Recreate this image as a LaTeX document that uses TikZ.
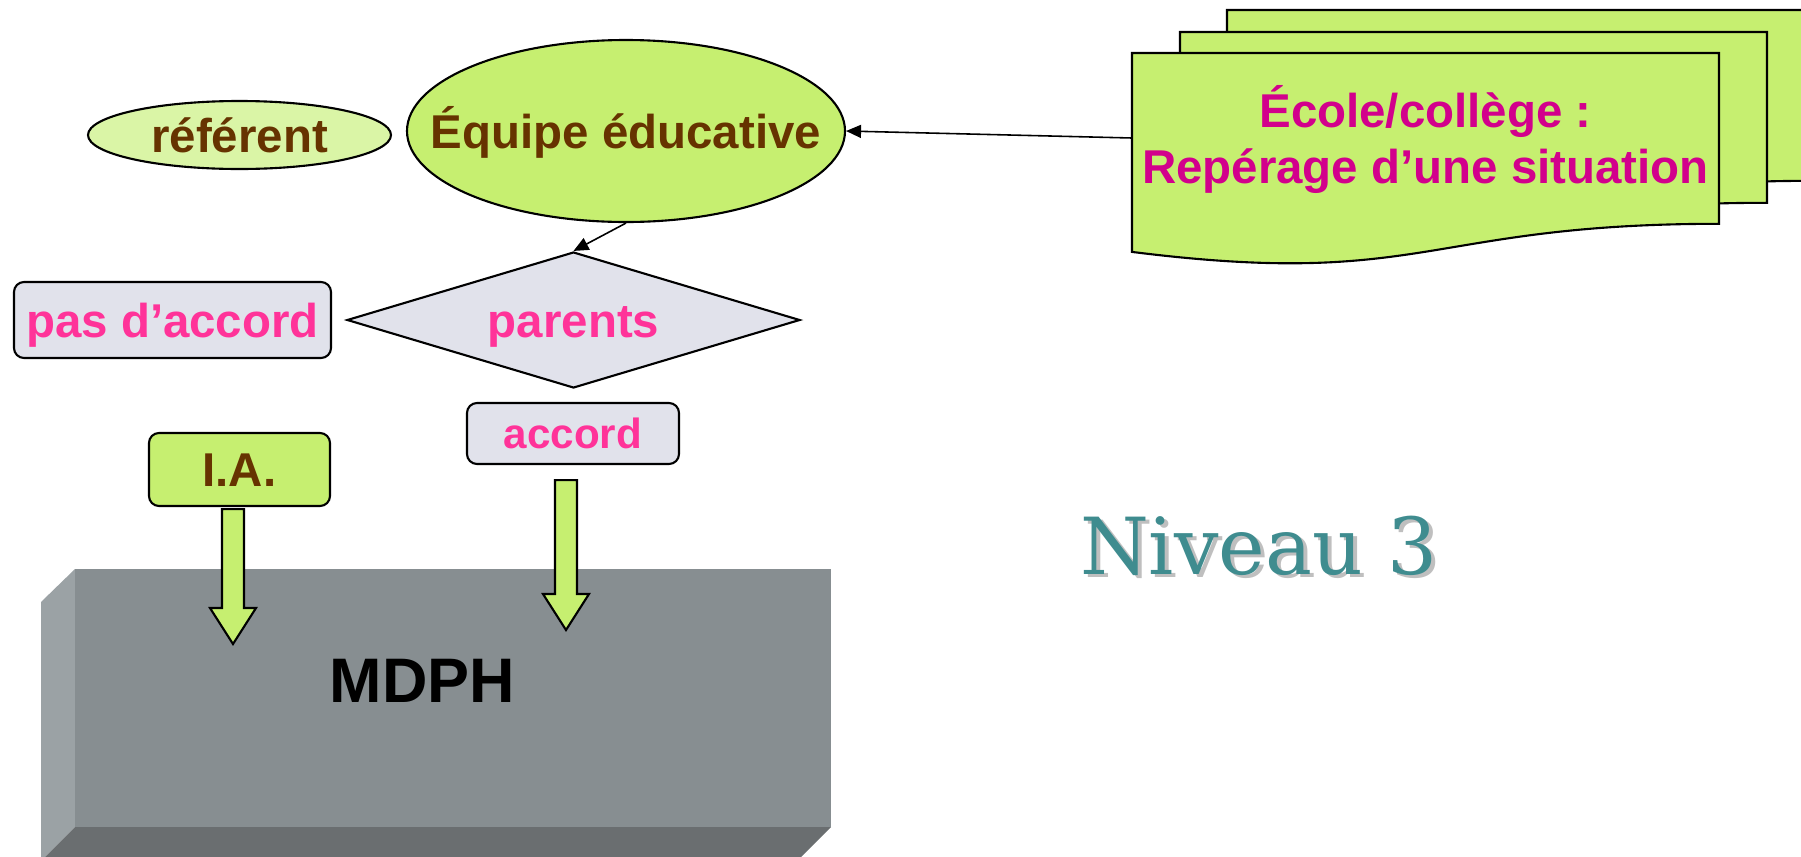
\documentclass[tikz,border=0pt]{standalone}
\usepackage{fontspec}
\setmainfont{Liberation Sans}
\newfontfamily\levelfont{DejaVu Serif}
\usetikzlibrary{shapes,arrows.meta,calc}

\definecolor{leaf}{RGB}{198,239,112}
\definecolor{paleleaf}{RGB}{218,245,166}
\definecolor{lilac}{RGB}{225,226,235}
\definecolor{bark}{RGB}{102,51,0}
\definecolor{rose}{RGB}{255,51,153}
\definecolor{fuchsia}{RGB}{210,0,140}
\definecolor{seablue}{RGB}{63,140,143}
\definecolor{slab}{RGB}{135,142,145}
\definecolor{slabside}{RGB}{155,162,165}
\definecolor{slabfoot}{RGB}{106,110,112}

\tikzstyle{outline} = [draw,line width=0.6pt]
\tikzstyle{label} = [font=\bfseries\fontsize{13.5}{16.2}\selectfont,text height=9.7pt,text depth=0pt,inner sep=0]
\tikzstyle{bubble} = [outline,label,ellipse,fill=leaf,text=bark]
\tikzstyle{tag} = [outline,label,rectangle,rounded corners=0.1cm,fill=lilac,text=rose]
\tikzstyle{link} = [-{Triangle[length=0.15cm,width=0.13cm]},line width=0.45pt]
\tikzstyle{fat} = [outline,fill=leaf,line join=miter]
\def \shaftw {0.11}
\def \headw {0.23}
\def \headl {0.36}
% block arrow from #1 straight down to #2
\def\fatarrow#1#2{\filldraw[fat] ($(#1)+(-\shaftw,0)$) -- ($(#2)+(-\shaftw,\headl)$) -- ($(#2)+(-\headw,\headl)$) -- (#2) -- ($(#2)+(\headw,\headl)$) -- ($(#2)+(\shaftw,\headl)$) -- ($(#1)+(\shaftw,0)$) -- cycle;}
\tikzset{docsheet/.pic={\path[outline,fill=leaf] (0,0) -- (5.87,0) -- (5.87,-1.708) .. controls (2.935,-1.708) and (2.935,-2.359) .. (0,-1.989) -- cycle;}}

\begin{document}
\begin{tikzpicture}
  \useasboundingbox (0,0) rectangle (18.01,8.56);
  \clip (0,0) rectangle (18.01,8.56);

  % stacked sheets, back to front
  \pic at (12.27,8.46) {docsheet};
  \pic at (11.80,8.24) {docsheet};
  \pic at (11.32,8.03) {docsheet};
  \node[font=\bfseries\fontsize{13.5}{16.2}\selectfont,text=fuchsia,align=center,inner sep=0] (situation) at (14.255,7.165) {École/collège :\\Repérage d’une situation};
  \coordinate (sheetW) at (11.32,7.18);

  % zero-width text so the ellipse keeps its own size
  \node[bubble,minimum width=4.38cm,minimum height=1.82cm] (equipe) at (6.26,7.25) {\makebox[0pt]{Équipe éducative}};
  \node[bubble,fill=paleleaf,minimum width=3.03cm,minimum height=0.68cm] (referent) at (2.395,7.21) {référent};
  \node[outline,label,diamond,aspect=3.33,fill=lilac,text=rose,minimum width=4.53cm,minimum height=1.36cm] (parents) at (5.735,5.36) {parents};
  \node[tag,minimum width=3.17cm,minimum height=0.76cm] (refus) at (1.725,5.36) {pas d’accord};
  \node[tag,font=\bfseries\fontsize{12}{14}\selectfont,text height=8.6pt,minimum width=2.12cm,minimum height=0.61cm] (accord) at (5.73,4.225) {accord};
  \node[tag,fill=leaf,text=bark,minimum width=1.81cm,minimum height=0.73cm] (ia) at (2.395,3.865) {I.A.};

  \draw[link] (sheetW) -- (equipe.east);
  \draw[link] (equipe.south) -- (parents.north);

  % MDPH slab
  \fill[slabside] (0.41,2.54) -- (0.75,2.87) -- (0.75,0.29) -- (0.41,-0.05) -- cycle;
  \fill[slabfoot] (0.75,0.29) -- (8.31,0.29) -- (7.97,-0.05) -- (0.41,-0.05) -- cycle;
  \fill[slab] (0.75,0.29) rectangle (8.31,2.87);
  \node[font=\bfseries\fontsize{17.9}{20}\selectfont,text height=12.8pt,text depth=0pt,inner sep=0] (mdph) at (4.225,1.765) {MDPH};

  \coordinate (iaTop) at ([xshift=-0.065cm,yshift=-0.02cm]ia.south);
  \coordinate (iaTip) at (iaTop |- 0,2.12);
  \coordinate (accordTop) at ([xshift=-0.07cm,yshift=-0.15cm]accord.south);
  \coordinate (accordTip) at (accordTop |- 0,2.26);
  \fatarrow{iaTop}{iaTip}
  \fatarrow{accordTop}{accordTip}

  \node[anchor=base,font=\levelfont\fontsize{22.4}{26}\selectfont,text=black!25,inner sep=0] (levelshade) at (12.63,2.785) {Niveau 3};
  \node[anchor=base,font=\levelfont\fontsize{22.4}{26}\selectfont,text=seablue,inner sep=0] (level) at (12.59,2.82) {Niveau 3};
\end{tikzpicture}
\end{document}
